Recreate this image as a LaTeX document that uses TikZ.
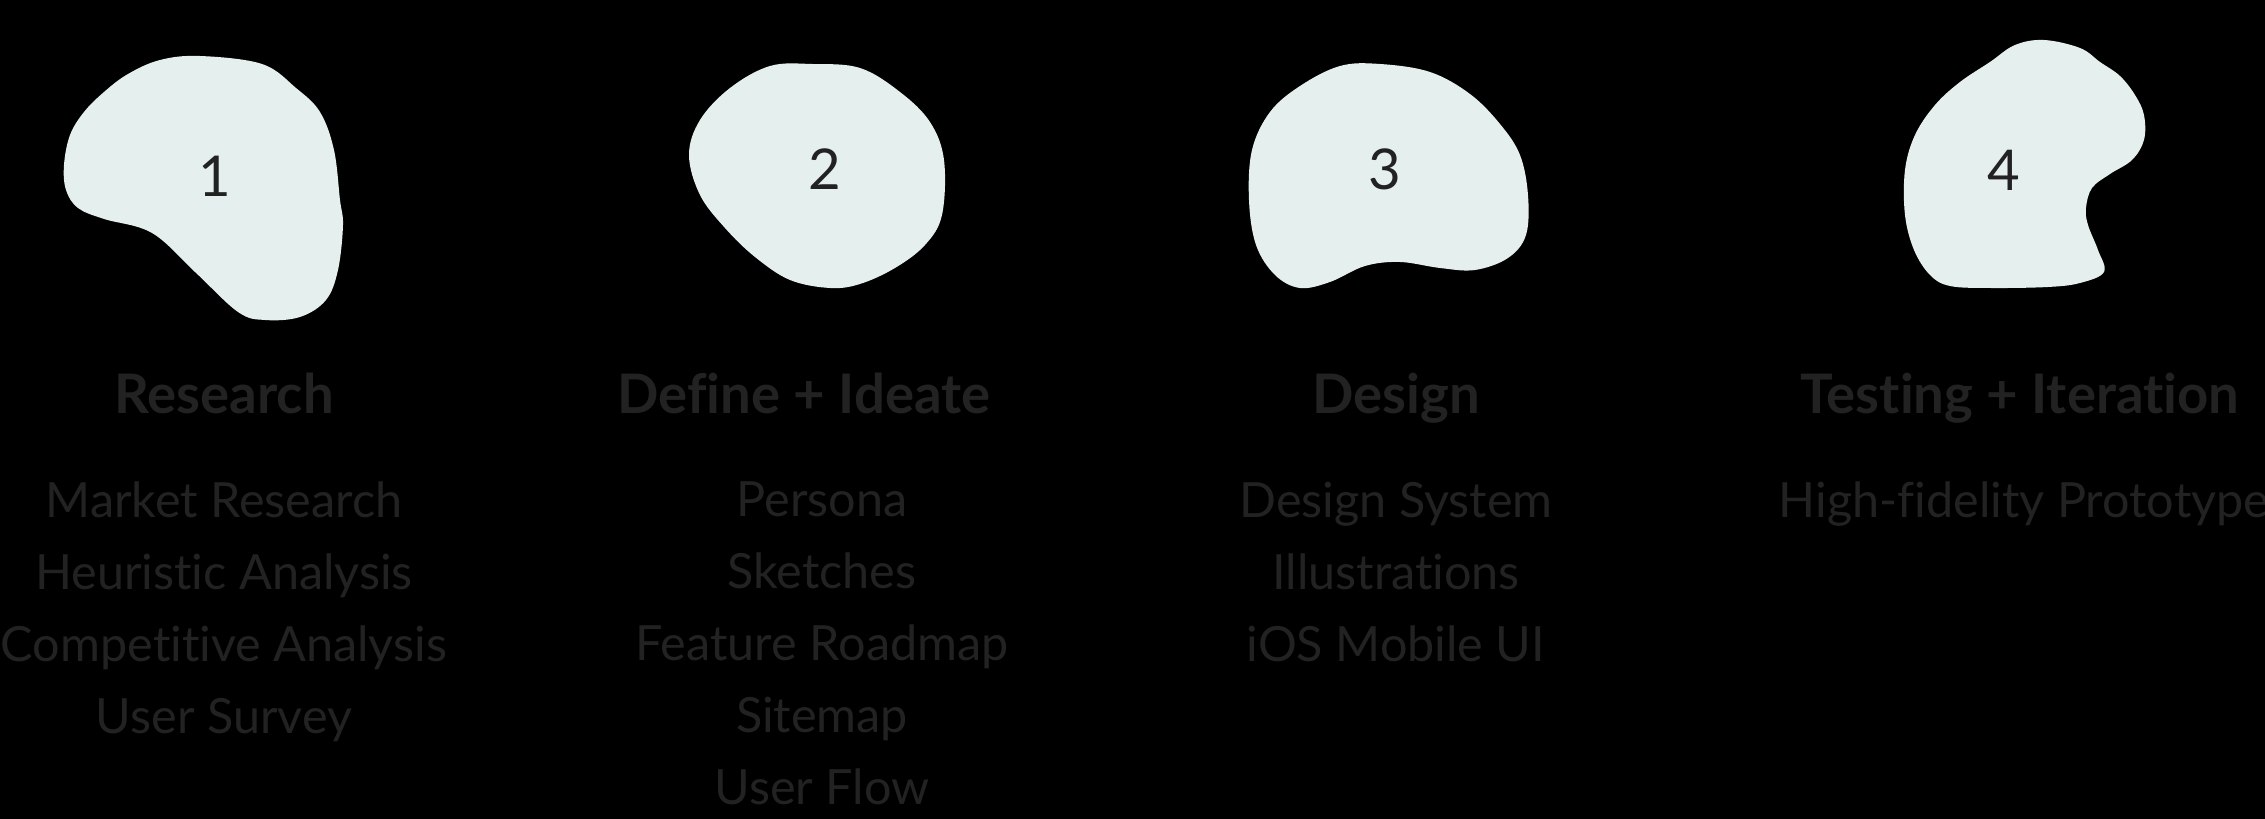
\documentclass[tikz,border=0pt]{standalone}
\usepackage{fontspec}
\setmainfont{Lato}[Ligatures=CommonOff]
\usetikzlibrary{positioning}
\definecolor{blobfill}{HTML}{E5EFED}
\definecolor{inkgray}{HTML}{222222}
\tikzset{
  blob/.style={fill=blobfill, draw=none},
  stepnum/.style={text=inkgray, inner sep=0pt, font=\fontsize{16pt}{16pt}\selectfont},
  stagetitle/.style={text=inkgray, inner sep=0pt, font=\bfseries\fontsize{15.5pt}{18pt}\selectfont},
  stageitems/.style={text=inkgray, inner sep=0pt, align=center, font=\fontsize{13.8pt}{20.5pt}\selectfont},
}

\begin{document}
\begin{tikzpicture}[x=0.01cm, y=-0.01cm]
  \fill[black] (0,0) rectangle (2265,819);
  \useasboundingbox (0,0) rectangle (2265,819);

  % blobs
  \fill[blob] plot[smooth cycle, tension=0.6] coordinates {
    (200,56) (262,64) (296,88) (320,112) (334,150) (340,200) (343,225)
    (338,270) (326,300) (300,317) (265,320) (238,312) (195,272) (152,233)
    (104,219) (78,208) (66,190) (64,165) (70,135) (84,112) (104,92)
    (128,74) (160,60)};
  \fill[blob] plot[smooth cycle, tension=0.6] coordinates {
    (812,64) (860,68) (900,92) (930,122) (944,160) (942,215) (925,245)
    (895,268) (860,284) (830,288) (790,280) (755,257) (725,228) (700,195)
    (689,155) (700,120) (730,88) (770,66)};
  \fill[blob] plot[smooth cycle, tension=0.6] coordinates {
    (1380,64) (1430,72) (1470,94) (1500,124) (1520,155) (1528,195)
    (1526,235) (1508,258) (1475,270) (1440,268) (1400,262) (1365,266)
    (1330,282) (1300,288) (1275,275) (1256,245) (1249,200) (1252,150)
    (1270,112) (1300,86) (1340,66)};
  \fill[blob] plot[smooth cycle, tension=0.6] coordinates {
    (2044,40) (2080,48) (2100,62) (2120,76) (2135,95) (2144,115)
    (2144,140) (2132,160) (2110,174) (2092,188) (2086,208) (2088,225)
    (2098,250) (2104,272) (2080,283) (2048,287) (1990,288) (1950,286)
    (1930,275) (1914,250) (1905,215) (1905,170) (1915,135) (1935,105)
    (1960,82) (1990,62) (2015,45)};

  % numbers
  \node[stepnum] (n1) at (215,176) {1};
  \node[stepnum] (n2) at (825,169) {2};
  \node[stepnum] (n3) at (1385,169) {3};
  \node[stepnum] (n4) at (2004,170) {4};

  % stage titles
  \node[stagetitle, anchor=base] (t1) at (224,414) {Research};
  \node[stagetitle, anchor=base] (t2) at (804,414) {Define + Ideate};
  \node[stagetitle, anchor=base] (t3) at (1396,414) {Design};
  \node[stagetitle, anchor=base] (t4) at (2020,414) {Testing + Iteration};

  % deliverables
  \node[stageitems, anchor=north] (l1) at (224,481)
    {Market Research\\Heuristic Analysis\\Competitive Analysis\\User Survey};
  \node[stageitems, anchor=north] (l2) at (822,481)
    {Persona\\Sketches\\Feature Roadmap\\Sitemap\\User Flow};
  \node[stageitems, anchor=north] (l3) at (1396,481)
    {Design System\\Illustrations\\iOS Mobile UI};
  \node[stageitems, anchor=north] (l4) at (2024,481)
    {High-fidelity Prototype};
\end{tikzpicture}
\end{document}
